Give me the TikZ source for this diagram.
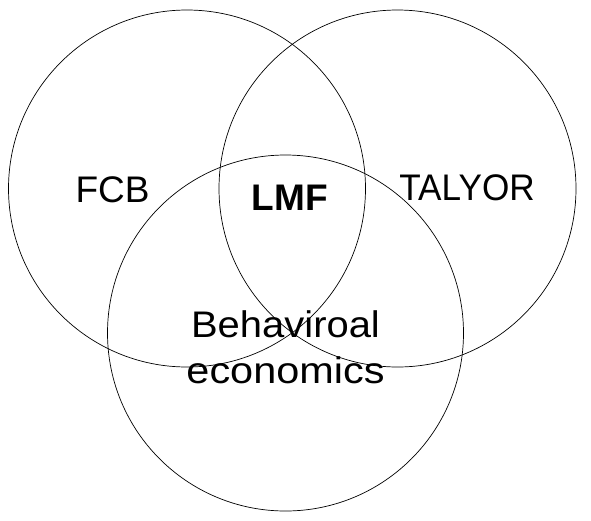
\documentclass[tikz,border=0pt]{standalone}
\usepackage{fontspec}
\setmainfont{Liberation Sans}
\begin{document}
\begin{tikzpicture}[x=1pt,y=-1pt,
  ring/.style={draw=black,line width=0.7pt},
  lbl/.style={font=\fontsize{37}{46}\selectfont,inner sep=0pt,anchor=base},
  lblb/.style={font=\fontsize{37}{46}\selectfont\bfseries,inner sep=0pt,anchor=base}]
\useasboundingbox (0,0) rectangle (591,520);
\draw[ring] (187,188.5) circle (178.5);
\draw[ring] (397.5,188.5) circle (178.5);
\draw[ring] (285.5,333) circle (178);
\node[lbl] (fcb) at (112.5,202) {FCB};
\node[lblb] (lmf) at (290,210) {LMF};
\node[lbl] (tal) at (467,200) {\scalebox{0.95}[1]{TALYOR}};
\node[lbl] (beh1) at (285.5,337) {\scalebox{1.08}[1]{Behaviroal}};
\node[lbl] (beh2) at (285.5,383) {\scalebox{1.12}[1]{economics}};
\end{tikzpicture}
\end{document}
